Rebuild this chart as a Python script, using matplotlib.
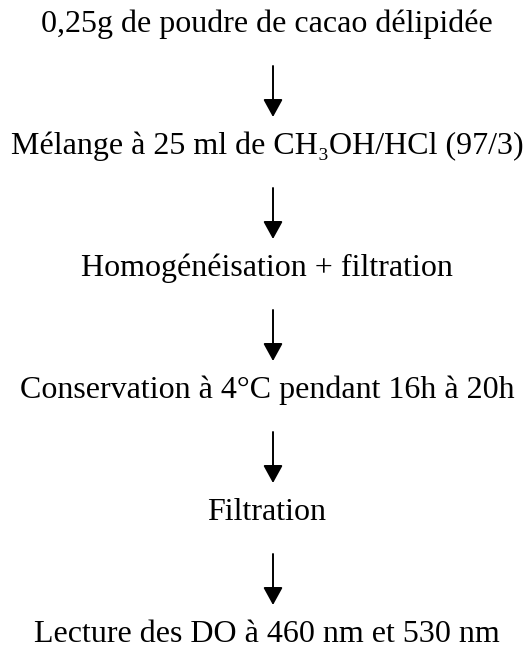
import matplotlib.pyplot as plt

plt.rcParams['font.family'] = ['Liberation Serif', 'DejaVu Serif']

# ============== steps of the protocol ==============
steps = [
    "0,25g de poudre de cacao délipidée",
    "Mélange à 25 ml de CH₃OH/HCl (97/3)",
    "Homogénéisation + filtration",
    "Conservation à 4°C pendant 16h à 20h",
    "Filtration",
    "Lecture des DO à 460 nm et 530 nm",
]

fig = plt.figure(figsize=(5.28, 6.51), dpi=100)
ax = fig.add_axes([0, 0, 1, 1])
ax.set_xlim(0, 528)
ax.set_ylim(651, 0)
ax.axis('off')

y0 = 24
dy = 122
text_x = 267
arrow_x = 273

for i, s in enumerate(steps):
    y = y0 + i * dy
    ax.text(text_x, y, s, ha='center', va='center', fontsize=23, color='black')
    if i < len(steps) - 1:
        ax.annotate("", xy=(arrow_x, y + 93), xytext=(arrow_x, y + 42),
                    arrowprops=dict(arrowstyle='-|>,head_length=0.4,head_width=0.22',
                                    color='black', lw=1.4,
                                    mutation_scale=27, shrinkA=0, shrinkB=0))

fig.savefig("out.png", dpi=100)
